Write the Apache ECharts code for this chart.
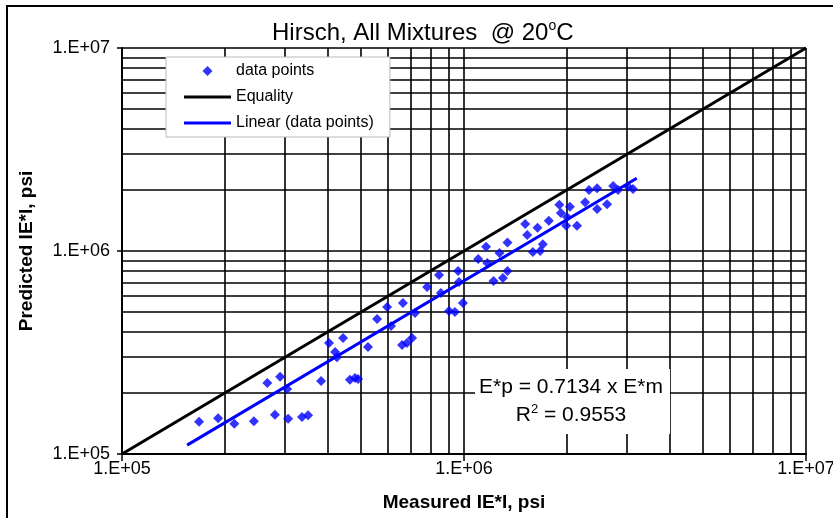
<!DOCTYPE html>
<html>
<head>
<meta charset="utf-8">
<script src="https://cdn.jsdelivr.net/npm/echarts@6/dist/echarts.min.js"></script>
<style>
  html, body { margin: 0; padding: 0; background: #fff; }
  #chart { width: 833px; height: 518px; }
</style>
</head>
<body>
<div id="chart"></div>
<script>
// Measured vs. predicted |E*| (psi), Hirsch model, all mixtures at 20 °C
const measured = [
  1.68e5, 1.91e5, 2.13e5, 2.43e5, 2.66e5, 2.90e5, 3.04e5, 2.80e5, 3.06e5, 3.36e5,
  3.50e5, 3.82e5, 4.64e5, 4.80e5, 4.90e5, 4.03e5, 4.43e5, 4.20e5, 4.25e5, 5.24e5,
  5.57e5, 5.96e5, 6.12e5, 6.63e5, 6.59e5, 6.81e5, 7.05e5, 7.19e5, 7.80e5, 8.56e5,
  8.45e5, 9.04e5, 9.41e5, 9.93e5, 9.61e5, 9.67e5, 1.10e6, 1.16e6, 1.17e6, 1.22e6,
  1.27e6, 1.30e6, 1.34e6, 1.34e6, 1.51e6, 1.53e6, 1.59e6, 1.64e6, 1.70e6, 1.67e6,
  1.77e6, 1.90e6, 1.92e6, 1.99e6, 2.00e6, 2.14e6, 2.26e6, 2.32e6, 2.45e6, 2.45e6,
  2.62e6, 2.73e6, 2.82e6, 3.02e6, 3.12e6, 2.04e6
];
const predicted = [
  1.44e5, 1.50e5, 1.41e5, 1.45e5, 2.24e5, 2.40e5, 2.09e5, 1.56e5, 1.49e5, 1.52e5,
  1.55e5, 2.29e5, 2.32e5, 2.37e5, 2.34e5, 3.52e5, 3.73e5, 3.18e5, 3.00e5, 3.37e5,
  4.62e5, 5.30e5, 4.27e5, 5.54e5, 3.44e5, 3.52e5, 3.73e5, 4.95e5, 6.65e5, 6.21e5,
  7.62e5, 5.06e5, 5.01e5, 5.54e5, 7.97e5, 7.04e5, 9.13e5, 1.05e6, 8.73e5, 7.12e5,
  9.78e5, 7.36e5, 7.97e5, 1.10e6, 1.36e6, 1.20e6, 9.89e5, 1.30e6, 1.08e6, 1.00e6,
  1.41e6, 1.69e6, 1.54e6, 1.33e6, 1.47e6, 1.33e6, 1.74e6, 2.00e6, 2.04e6, 1.61e6,
  1.70e6, 2.09e6, 2.00e6, 2.07e6, 2.02e6, 1.65e6
];

// Trendline through the origin: E*p = slope x E*m
const fitSlope = 0.7134;
const rSquared = 0.9553;
const fitRange = [1.55e5, 3.2e6];
const equalityRange = [1e5, 1e7];

// Axis range, labels and the intermediate log grid values
const axisMin = 1e5;
const axisMax = 1e7;
const tickLabels = ['1.E+05', '1.E+06', '1.E+07'];
const minorGrid = [2e5, 3e5, 4e5, 5e5, 6e5, 7e5, 8e5, 9e5,
                   2e6, 3e6, 4e6, 5e6, 6e6, 7e6, 8e6, 9e6];

const FONT = 'Liberation Sans';
const scatterData = measured.map((m, i) => [m, predicted[i]]);
const equalityData = equalityRange.map(v => [v, v]);
const fitData = fitRange.map(v => [v, fitSlope * v]);
const tickFmt = v => tickLabels[Math.round(Math.log10(v)) - 5];

const gridLines = minorGrid.map(v => ({ xAxis: v }))
  .concat(minorGrid.map(v => ({ yAxis: v })));

// Legend icons: a small diamond and flat line swatches
const diamondIcon = 'path://M5,0 L10,5 L5,10 L0,5 Z';
const lineIcon = 'path://M0,0 L47,0 L47,3 L0,3 Z';

const chart = echarts.init(document.getElementById('chart'), null, { renderer: 'canvas' });

chart.setOption({
  animation: false,
  backgroundColor: '#fff',
  title: {
    text: '{t|Hirsch, All Mixtures  @ 20}{s|o}{t|C}',
    left: 272,
    top: 19,
    padding: 0,
    textStyle: {
      fontWeight: 'normal',
      rich: {
        t: { fontFamily: FONT, fontSize: 24, fontWeight: 'normal', color: '#000', lineHeight: 28 },
        s: { fontFamily: FONT, fontSize: 14, fontWeight: 'normal', color: '#000', verticalAlign: 'top', lineHeight: 28, padding: [0, 0, 10, 0] }
      }
    }
  },
  legend: {
    orient: 'vertical',
    left: 166,
    top: 57,
    itemWidth: 47,
    itemHeight: 10,
    itemGap: 10,
    symbolKeepAspect: true,
    padding: [6, 16, 6, 18],
    backgroundColor: '#fff',
    borderColor: '#bbb',
    borderWidth: 1,
    textStyle: { fontFamily: FONT, fontSize: 16, color: '#000' },
    data: [
      { name: 'data points', icon: diamondIcon },
      { name: 'Equality', icon: lineIcon },
      { name: 'Linear (data points)', icon: lineIcon }
    ]
  },
  grid: { left: 122, right: 27, top: 48, bottom: 64, containLabel: false, outerBoundsMode: 'none' },
  xAxis: {
    type: 'log',
    logBase: 10,
    min: axisMin,
    max: axisMax,
    name: 'Measured IE*I, psi',
    nameLocation: 'middle',
    nameGap: 39,
    nameTextStyle: { fontFamily: FONT, fontSize: 19, fontWeight: 'bold', color: '#000', verticalAlign: 'top' },
    axisLine: { show: true, lineStyle: { color: '#000', width: 2 } },
    axisTick: { show: true, length: 7, lineStyle: { color: '#000', width: 1.5 } },
    axisLabel: { fontFamily: FONT, fontSize: 18, color: '#000', margin: 6, formatter: tickFmt, hideOverlap: false },
    splitLine: { show: true, lineStyle: { color: '#000', width: 1.6 } }
  },
  yAxis: {
    type: 'log',
    logBase: 10,
    min: axisMin,
    max: axisMax,
    name: 'Predicted IE*I, psi',
    nameLocation: 'middle',
    nameGap: 86,
    nameTextStyle: { fontFamily: FONT, fontSize: 19, fontWeight: 'bold', color: '#000' },
    axisLine: { show: true, lineStyle: { color: '#000', width: 2 } },
    axisTick: { show: true, length: 5, lineStyle: { color: '#000', width: 1.5 } },
    axisLabel: { fontFamily: FONT, fontSize: 18, color: '#000', margin: 12, formatter: tickFmt },
    splitLine: { show: true, lineStyle: { color: '#000', width: 1.6 } }
  },
  series: [
    {
      name: 'Equality',
      type: 'line',
      data: equalityData,
      symbol: 'none',
      z: 2,
      lineStyle: { color: '#000', width: 3 },
      itemStyle: { color: '#000' },
      markLine: {
        silent: true,
        z: 1,
        symbol: ['none', 'none'],
        label: { show: false },
        emphasis: { disabled: true },
        lineStyle: { color: '#000', width: 1.6, type: 'solid' },
        data: gridLines
      }
    },
    {
      name: 'Linear (data points)',
      type: 'line',
      data: fitData,
      symbol: 'none',
      z: 2,
      lineStyle: { color: '#0000ff', width: 3 },
      itemStyle: { color: '#0000ff' }
    },
    {
      name: 'data points',
      type: 'scatter',
      data: scatterData,
      symbol: 'diamond',
      symbolSize: 10,
      z: 3,
      itemStyle: { color: '#0000ff' }
    }
  ],
  graphic: [
    {
      type: 'rect',
      z: 0,
      shape: { x: 7, y: 6, width: 900, height: 600 },
      style: { fill: 'none', stroke: '#000', lineWidth: 2 }
    },
    {
      type: 'rect',
      z: 50,
      shape: { x: 475, y: 369, width: 195, height: 65 },
      style: { fill: '#fff' }
    },
    {
      type: 'text',
      z: 51,
      x: 571,
      y: 387,
      style: {
        text: 'E*p = ' + fitSlope.toFixed(4) + ' x E*m',
        fontFamily: FONT,
        fontSize: 21,
        fill: '#000',
        align: 'center',
        verticalAlign: 'middle'
      }
    },
    {
      type: 'text',
      z: 51,
      x: 571,
      y: 415,
      style: {
        text: '{t|R}{s|2}{t| = ' + rSquared.toFixed(4) + '}',
        align: 'center',
        verticalAlign: 'middle',
        rich: {
          t: { fontFamily: FONT, fontSize: 21, fill: '#000', lineHeight: 24 },
          s: { fontFamily: FONT, fontSize: 13, fill: '#000', verticalAlign: 'top', lineHeight: 24 }
        }
      }
    }
  ]
});
</script>
</body>
</html>
